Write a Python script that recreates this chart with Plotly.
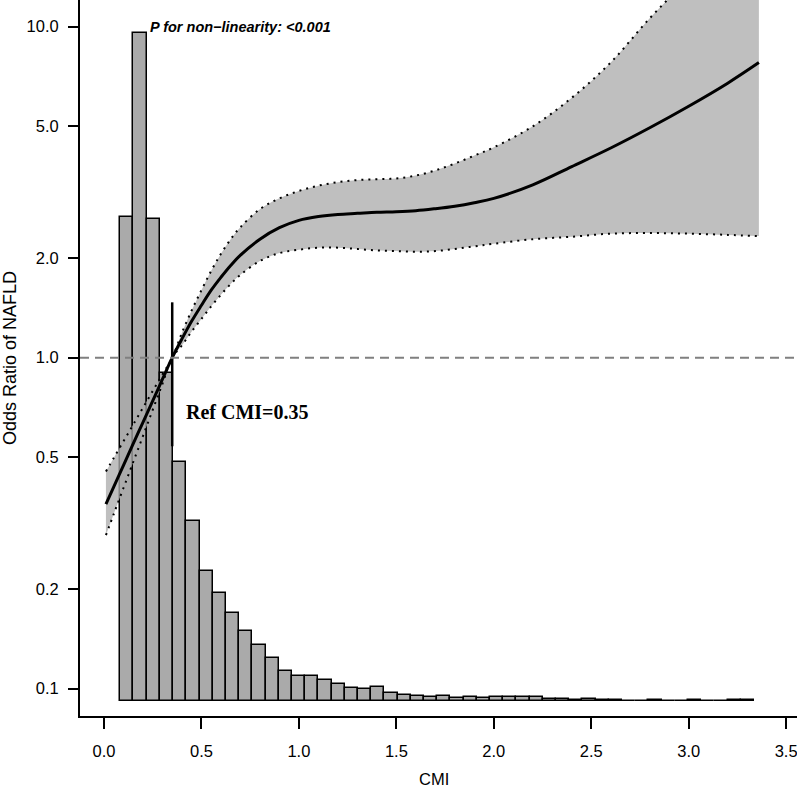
import math
import plotly.graph_objects as go

# ---------------- data ----------------
# Restricted cubic spline: CMI vs odds ratio of NAFLD
cmi = [0.01, 0.05, 0.10, 0.15, 0.20, 0.25, 0.30, 0.35, 0.40, 0.45, 0.50, 0.55,
       0.60, 0.65, 0.70, 0.80, 0.90, 1.00, 1.10, 1.20, 1.30, 1.40, 1.50, 1.60,
       1.70, 1.80, 1.90, 2.00, 2.20, 2.40, 2.60, 2.80, 3.00, 3.20, 3.36]
or_center = [0.361, 0.407, 0.473, 0.550, 0.638, 0.741, 0.861, 1.000, 1.14, 1.29, 1.44, 1.60,
             1.75, 1.90, 2.04, 2.28, 2.47, 2.60, 2.67, 2.71, 2.73, 2.75, 2.76, 2.78,
             2.82, 2.87, 2.94, 3.03, 3.33, 3.78, 4.30, 4.95, 5.75, 6.75, 7.79]
or_upper = [0.453, 0.498, 0.559, 0.628, 0.706, 0.793, 0.890, 1.000, 1.19, 1.39, 1.60, 1.83,
            2.06, 2.28, 2.48, 2.81, 3.03, 3.19, 3.31, 3.39, 3.44, 3.46, 3.48, 3.55,
            3.68, 3.86, 4.08, 4.32, 5.00, 6.10, 7.80, 10.6, 14.0, 18.5, 23.0]
or_lower = [0.291, 0.337, 0.404, 0.484, 0.580, 0.696, 0.834, 1.000, 1.09, 1.20, 1.31, 1.43,
            1.55, 1.67, 1.78, 1.96, 2.07, 2.12, 2.15, 2.15, 2.13, 2.11, 2.10, 2.09,
            2.10, 2.13, 2.17, 2.21, 2.28, 2.32, 2.37, 2.38, 2.37, 2.35, 2.33]

# Histogram of CMI distribution (48 bins)
hist_bin_start = 0.0836
hist_bin_width = 0.06774
hist_counts = [1936, 2672, 1928, 1312, 956, 720, 520, 434, 352, 280, 226, 172,
               122, 100, 102, 84, 68, 52, 47, 57, 33, 25, 20, 16,
               21, 11, 17, 12, 15, 15, 15, 15, 9, 9, 6, 8,
               4, 6, 2, 2, 4, 2, 2, 4, 2, 2, 4, 4]

ref_cmi = 0.35
ref_segment_or = [0.54, 1.47]
ref_or = 1.0

x_tick_vals = [0.0, 0.5, 1.0, 1.5, 2.0, 2.5, 3.0, 3.5]
x_tick_text = ["0.0", "0.5", "1.0", "1.5", "2.0", "2.5", "3.0", "3.5"]
y_tick_vals = [0.1, 0.2, 0.5, 1.0, 2.0, 5.0, 10.0]
y_tick_text = ["0.1", "0.2", "0.5", "1.0", "2.0", "5.0", "10.0"]

p_text = "P for non\u2212linearity: <0.001"
ref_text = "Ref CMI=0.35"

# ---------------- figure ----------------
SANS = "Liberation Sans, Arial, Helvetica, sans-serif"
SERIF = "Liberation Serif, Times New Roman, serif"

bin_centers = [hist_bin_start + (i + 0.5) * hist_bin_width for i in range(len(hist_counts))]

fig = go.Figure()

fig.add_trace(go.Bar(
    x=bin_centers, y=hist_counts, width=hist_bin_width,
    marker=dict(color="#AAAAAA", line=dict(color="black", width=1.5)),
    yaxis="y", showlegend=False, hoverinfo="skip",
))

# CI band
fig.add_trace(go.Scatter(
    x=cmi, y=or_upper, mode="lines", line=dict(width=0, color="rgba(0,0,0,0)", shape="spline"),
    yaxis="y2", showlegend=False, hoverinfo="skip",
))
fig.add_trace(go.Scatter(
    x=cmi, y=or_lower, mode="lines", line=dict(width=0, color="rgba(0,0,0,0)", shape="spline"),
    fill="tonexty", fillcolor="rgba(172,172,172,0.77)",
    yaxis="y2", showlegend=False, hoverinfo="skip",
))
# dotted CI bounds
for series in (or_upper, or_lower):
    fig.add_trace(go.Scatter(
        x=cmi, y=series, mode="lines",
        line=dict(color="black", width=2, dash="2px,5px", shape="spline"),
        yaxis="y2", showlegend=False, hoverinfo="skip",
    ))
# central estimate
fig.add_trace(go.Scatter(
    x=cmi, y=or_center, mode="lines",
    line=dict(color="black", width=3, shape="spline"),
    yaxis="y2", showlegend=False, hoverinfo="skip",
))
# reference marker
fig.add_trace(go.Scatter(
    x=[ref_cmi, ref_cmi], y=ref_segment_or, mode="lines",
    line=dict(color="black", width=2.5),
    yaxis="y2", showlegend=False, hoverinfo="skip",
))

fig.add_shape(type="line", xref="paper", x0=0, x1=1, yref="y2", y0=ref_or, y1=ref_or,
              line=dict(color="#808080", width=2, dash="9px,6px"), layer="above")

W, H = 797, 792
ML, MB = 80, 76
pw, ph = W - ML, H - MB

fig.add_annotation(text="Odds Ratio of NAFLD", textangle=-90, xref="paper", yref="paper",
                   x=(10 - ML) / pw, y=0.5, showarrow=False,
                   font=dict(family=SANS, size=18, color="black"),
                   xanchor="center", yanchor="middle")
fig.add_annotation(text="CMI", xref="paper", yref="paper",
                   x=(434 - ML) / pw, y=(ph - 779) / ph, showarrow=False,
                   font=dict(family=SANS, size=16.5, color="black"),
                   xanchor="center", yanchor="middle")
fig.add_annotation(text="<b><i>" + p_text + "</i></b>", xref="x", yref="y2",
                   x=0.226, y=math.log10(10.0), showarrow=False,
                   font=dict(family=SANS, size=14.5, color="black"),
                   xanchor="left", yanchor="middle")
fig.add_annotation(text="<b>" + ref_text + "</b>", xref="x", yref="y2",
                   x=0.412, y=math.log10(0.685), showarrow=False,
                   font=dict(family=SERIF, size=20, color="black"),
                   xanchor="left", yanchor="middle")

fig.update_layout(
    width=W, height=H,
    margin=dict(l=ML, r=0, t=0, b=MB, pad=0),
    paper_bgcolor="white", plot_bgcolor="white",
    bargap=0,
    font=dict(family=SANS, size=16, color="black"),
    xaxis=dict(range=[-0.1231, 3.5556], tickvals=x_tick_vals, ticktext=x_tick_text,
               ticks="outside", ticklen=11, tickwidth=2, tickcolor="black",
               showline=True, linewidth=2, linecolor="black",
               showgrid=False, zeroline=False, ticklabelstandoff=8,
               ticklabeloverflow="allow",
               tickfont=dict(family=SANS, size=16.5, color="black")),
    yaxis=dict(range=[-60, 2804], visible=False, showgrid=False, zeroline=False),
    yaxis2=dict(type="log", range=[-1.0825, 1.0807], overlaying="y", side="left", anchor="x",
                tickvals=y_tick_vals, ticktext=y_tick_text,
                ticks="outside", ticklen=10, tickwidth=2, tickcolor="black",
                showline=True, linewidth=2, linecolor="black",
                showgrid=False, zeroline=False, ticklabelstandoff=6,
                ticklabeloverflow="allow",
                tickfont=dict(family=SANS, size=16.5, color="black")),
)

fig.write_html("out.html", config={"displayModeBar": False},
               post_script="document.body.style.margin='0';document.body.style.overflow='hidden';")
